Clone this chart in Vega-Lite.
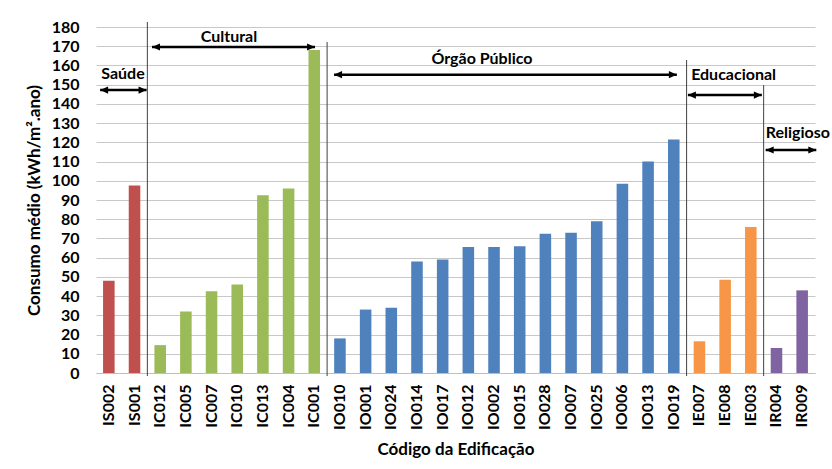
{
  "$schema": "https://vega.github.io/schema/vega-lite/v6.json",
  "width": 719,
  "height": 346,
  "autosize": "none",
  "padding": {"left": 96, "top": 27, "right": 17, "bottom": 96},
  "background": "white",
  "config": {
    "view": {"stroke": null},
    "font": "Lato",
    "axisY": {
      "tickCount": 18,
      "domain": false, "ticks": false, "tickSize": 0, "labelPadding": 17,
      "gridColor": "#c8c8c8", "labelFont": "Lato", "labelFontSize": 16,
      "labelFontWeight": "bold", "labelColor": "black",
      "titleFont": "Lato", "titleFontSize": 17, "titleFontWeight": "bold",
      "titleColor": "black", "titlePadding": 8
    }
  },
  "datasets": {
    "bars": [
      {"codigo": "IS002", "grupo": "Saúde", "consumo": 48},
      {"codigo": "IS001", "grupo": "Saúde", "consumo": 97.5},
      {"codigo": "IC012", "grupo": "Cultural", "consumo": 14.5},
      {"codigo": "IC005", "grupo": "Cultural", "consumo": 32},
      {"codigo": "IC007", "grupo": "Cultural", "consumo": 42.5},
      {"codigo": "IC010", "grupo": "Cultural", "consumo": 46},
      {"codigo": "IC013", "grupo": "Cultural", "consumo": 92.5},
      {"codigo": "IC004", "grupo": "Cultural", "consumo": 96},
      {"codigo": "IC001", "grupo": "Cultural", "consumo": 168},
      {"codigo": "IO010", "grupo": "Órgão Público", "consumo": 18},
      {"codigo": "IO001", "grupo": "Órgão Público", "consumo": 33},
      {"codigo": "IO024", "grupo": "Órgão Público", "consumo": 34},
      {"codigo": "IO014", "grupo": "Órgão Público", "consumo": 58},
      {"codigo": "IO017", "grupo": "Órgão Público", "consumo": 59},
      {"codigo": "IO012", "grupo": "Órgão Público", "consumo": 65.5},
      {"codigo": "IO002", "grupo": "Órgão Público", "consumo": 65.5},
      {"codigo": "IO015", "grupo": "Órgão Público", "consumo": 66},
      {"codigo": "IO028", "grupo": "Órgão Público", "consumo": 72.5},
      {"codigo": "IO007", "grupo": "Órgão Público", "consumo": 73},
      {"codigo": "IO025", "grupo": "Órgão Público", "consumo": 79},
      {"codigo": "IO006", "grupo": "Órgão Público", "consumo": 98.5},
      {"codigo": "IO013", "grupo": "Órgão Público", "consumo": 110},
      {"codigo": "IO019", "grupo": "Órgão Público", "consumo": 121.5},
      {"codigo": "IE007", "grupo": "Educacional", "consumo": 16.5},
      {"codigo": "IE008", "grupo": "Educacional", "consumo": 48.5},
      {"codigo": "IE003", "grupo": "Educacional", "consumo": 76},
      {"codigo": "IR004", "grupo": "Religioso", "consumo": 13},
      {"codigo": "IR009", "grupo": "Religioso", "consumo": 43}
    ],
    "separadores": [
      {"pos": 2, "topo": 182.6, "base": -1.6},
      {"pos": 9, "topo": 172.2, "base": -1.6},
      {"pos": 23, "topo": 162.8, "base": -1.6},
      {"pos": 26, "topo": 149.8, "base": -1.6}
    ],
    "setas": [
      {"grupo": "Saúde", "inicio": 0.16, "fim": 1.97, "nivel": 147.2, "xr": 1.05, "yr": 155.6},
      {"grupo": "Cultural", "inicio": 2.18, "fim": 8.53, "nivel": 169.6, "xr": 5.18, "yr": 174.8},
      {"grupo": "Órgão Público", "inicio": 9.27, "fim": 22.62, "nivel": 155.2, "xr": 15.03, "yr": 163.4},
      {"grupo": "Educacional", "inicio": 23.05, "fim": 25.93, "nivel": 144.6, "xr": 24.83, "yr": 155.0},
      {"grupo": "Religioso", "inicio": 26.08, "fim": 28.05, "nivel": 116.0, "xr": 27.33, "yr": 124.9}
    ]
  },
  "layer": [
    {
      "data": {"name": "bars"},
      "mark": {"type": "bar"},
      "encoding": {
        "x": {
          "field": "codigo", "type": "nominal", "sort": null,
          "scale": {"paddingInner": 0.55, "paddingOuter": 0.275},
          "axis": {
            "title": "Código da Edificação", "labelAngle": -90, "labelFont": "Lato",
            "labelFontWeight": "bold", "labelFontSize": 16, "labelColor": "black",
            "ticks": false, "tickSize": 0, "labelPadding": 11, "domainColor": "#bfbfbf",
            "titleFont": "Lato", "titleFontSize": 17, "titleFontWeight": "bold",
            "titlePadding": 12, "titleColor": "black"
          }
        },
        "y": {
          "field": "consumo", "type": "quantitative",
          "scale": {"domain": [0, 180], "nice": false},
          "axis": {"title": "Consumo médio (kWh/m².ano)", "tickCount": 18}
        },
        "color": {
          "field": "grupo", "type": "nominal",
          "scale": {
            "domain": ["Saúde", "Cultural", "Órgão Público", "Educacional", "Religioso"],
            "range": ["#C0504D", "#9BBB59", "#4F81BD", "#F79646", "#8064A2"]
          },
          "legend": null
        }
      }
    },
    {
      "data": {"name": "separadores"},
      "mark": {"type": "rule", "color": "#404040", "strokeWidth": 1},
      "encoding": {
        "x": {"field": "pos", "type": "quantitative", "scale": {"domain": [0, 28], "nice": false, "zero": false}, "axis": null},
        "y": {"field": "topo", "type": "quantitative", "axis": {"title": "Consumo médio (kWh/m².ano)", "tickCount": 18}},
        "y2": {"field": "base"}
      }
    },
    {
      "data": {"name": "setas"},
      "mark": {"type": "rule", "color": "black", "strokeWidth": 2.5},
      "encoding": {
        "x": {"field": "inicio", "type": "quantitative", "scale": {"domain": [0, 28], "nice": false, "zero": false}, "axis": null},
        "x2": {"field": "fim"},
        "y": {"field": "nivel", "type": "quantitative", "axis": {"title": "Consumo médio (kWh/m².ano)", "tickCount": 18}}
      }
    },
    {
      "data": {"name": "setas"},
      "mark": {"type": "point", "shape": "M0,0L2,-0.9L2,0.9Z", "filled": true, "color": "black", "opacity": 1, "size": 64},
      "encoding": {
        "x": {"field": "inicio", "type": "quantitative", "scale": {"domain": [0, 28], "nice": false, "zero": false}, "axis": null},
        "y": {"field": "nivel", "type": "quantitative", "axis": {"title": "Consumo médio (kWh/m².ano)", "tickCount": 18}}
      }
    },
    {
      "data": {"name": "setas"},
      "mark": {"type": "point", "shape": "M0,0L-2,-0.9L-2,0.9Z", "filled": true, "color": "black", "opacity": 1, "size": 64},
      "encoding": {
        "x": {"field": "fim", "type": "quantitative", "scale": {"domain": [0, 28], "nice": false, "zero": false}, "axis": null},
        "y": {"field": "nivel", "type": "quantitative", "axis": {"title": "Consumo médio (kWh/m².ano)", "tickCount": 18}}
      }
    },
    {
      "data": {"name": "setas"},
      "mark": {"type": "text", "font": "Lato", "fontWeight": "bold", "fontSize": 16, "color": "black", "align": "center", "baseline": "middle"},
      "encoding": {
        "x": {"field": "xr", "type": "quantitative", "scale": {"domain": [0, 28], "nice": false, "zero": false}, "axis": null},
        "y": {"field": "yr", "type": "quantitative", "axis": {"title": "Consumo médio (kWh/m².ano)", "tickCount": 18}},
        "text": {"field": "grupo"}
      }
    }
  ],
  "resolve": {"scale": {"x": "independent"}}
}
